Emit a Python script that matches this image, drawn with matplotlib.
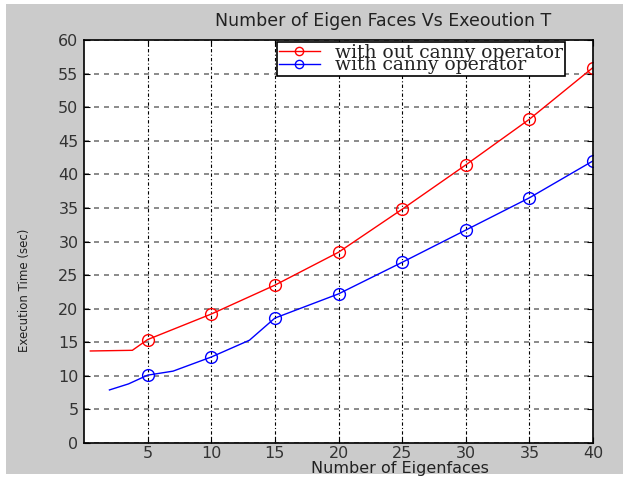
import numpy as np
import matplotlib
matplotlib.use("Agg")
import matplotlib.pyplot as plt
from matplotlib.patches import Rectangle

# values
red_x = [0.5, 3.8, 5, 10, 15, 20, 25, 30, 35, 40]
red_y = [13.7, 13.8, 15.4, 19.2, 23.5, 28.4, 34.8, 41.4, 48.2, 55.9]
blue_x = [2, 3.5, 5, 7, 10, 13, 15, 20, 25, 30, 35, 40]
blue_y = [7.9, 8.8, 10.1, 10.7, 12.8, 15.3, 18.6, 22.2, 26.9, 31.7, 36.5, 42.0]
xticks = [5, 10, 15, 20, 25, 30, 35, 40]
yticks = list(range(0, 61, 5))

red_marks = [i for i, v in enumerate(red_x) if v % 5 == 0]
blue_marks = [i for i, v in enumerate(blue_x) if v % 5 == 0]

fig = plt.figure(figsize=(6.29, 4.78), dpi=100, facecolor='white')
fig.patches.append(Rectangle((6/629, 4/478), 617/629, 470/478, transform=fig.transFigure,
                             facecolor='#cbcbcb', edgecolor='none', zorder=-10))

ax = fig.add_axes([84/629, 1 - 443/478, 509/629, 403/478])
ax.set_facecolor('white')

ax.plot(red_x, red_y, '-o', color='red', lw=1, ms=8.5, mfc='none', mew=1,
        markevery=red_marks, label='with out canny operator')
ax.plot(blue_x, blue_y, '-o', color='blue', lw=1, ms=8.5, mfc='none', mew=1,
        markevery=blue_marks, label='with canny operator')

ax.set_xlim(0, 40)
ax.set_ylim(0, 60)
ax.set_xticks(xticks)
ax.set_yticks(yticks)
ax.tick_params(direction='in', length=4, labelsize=11.5, colors='black', labelcolor='#333333')
ax.tick_params(axis='x', pad=2)
ax.tick_params(axis='y', pad=4)
ax.yaxis.set_ticks_position('both')
ax.xaxis.set_ticks_position('both')

ax.yaxis.grid(True, color='#777777', linestyle=(0, (3, 3)), lw=1.2)
ax.xaxis.grid(True, color='black', linestyle=(0, (3, 2, 1, 2)), lw=0.8)
for s in ax.spines.values():
    s.set_linewidth(1.2)

leg = ax.legend(loc='upper left', bbox_to_anchor=(0.375, 1.0), frameon=True, fancybox=False,
                prop={'family': 'DejaVu Serif', 'size': 13.5}, handlelength=2.2,
                borderpad=0.1, labelspacing=-0.3, handletextpad=0.8, borderaxespad=0.1,
                framealpha=1, markerscale=0.7)
leg.get_frame().set_edgecolor('black')
leg.get_frame().set_linewidth(1.2)
for t in leg.get_texts():
    t.set_color('#222222')

fig.text(383/629, 1 - 21/478, 'Number of Eigen Faces Vs Exeoution T', ha='center', va='center',
         fontsize=12.5, color='#222222')
fig.text(400/629, 1 - 469/478, 'Number of Eigenfaces', ha='center', va='center', fontsize=11.5,
         color='#222222')
fig.text(25/629, 1 - 290/478, 'Execution Time (sec)', ha='center', va='center', fontsize=8.5,
         rotation=90, color='#222222')

fig.savefig('out.png', dpi=100, facecolor=fig.get_facecolor())
